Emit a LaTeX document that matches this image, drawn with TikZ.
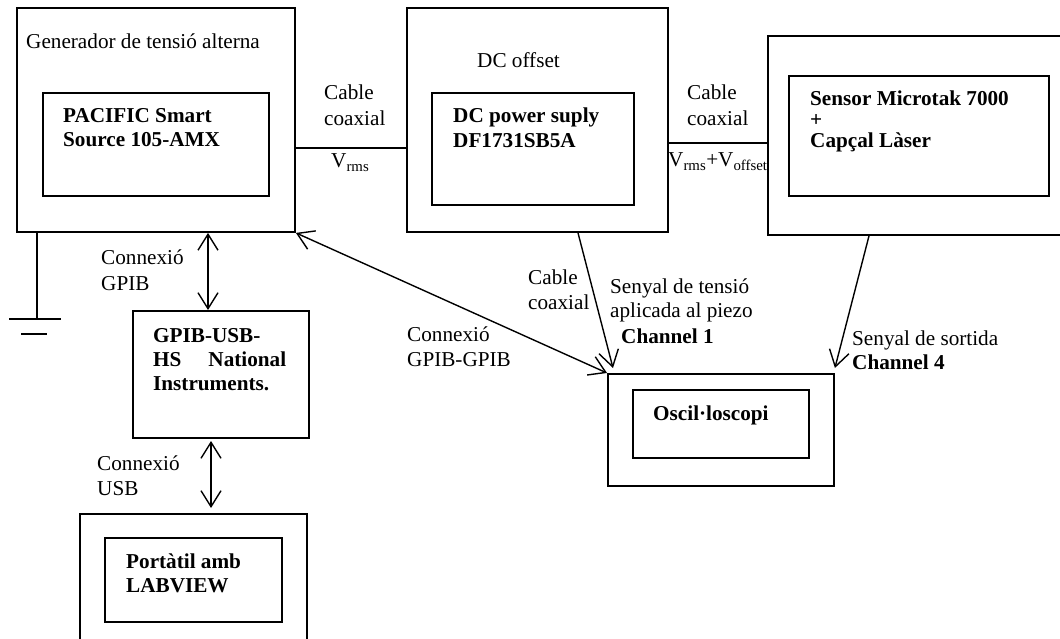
\documentclass[tikz,border=0pt]{standalone}
\usepackage{fontspec}
\setmainfont{Liberation Serif}
\usetikzlibrary{arrows.meta,calc}
\begin{document}
\begin{tikzpicture}[x=1pt,y=-1pt,
  box/.style={draw, line width=1.9pt, inner sep=0pt, anchor=north west},
  conn/.style={line width=1.4pt},
  barb/.tip={Straight Barb[length=16pt,width=20pt,line width=1.4pt]},
  lbl/.style={inner sep=0pt, anchor=base west, font=\fontsize{21.2}{24}\selectfont},
  blbl/.style={lbl, font=\fontsize{21.2}{24}\selectfont\bfseries}]
\useasboundingbox (0,0) rectangle (1060,639);
\clip (0,0) rectangle (1060,639);

% boxes
\node[box, minimum width=278pt, minimum height=224pt] (gen) at (16,7) {};
\node[box, minimum width=226pt, minimum height=103pt] (genin) at (42,92) {};
\node[box, minimum width=261pt, minimum height=224pt] (dc) at (406,7) {};
\node[box, minimum width=202pt, minimum height=112pt] (dcin) at (431,92) {};
\node[box, minimum width=300pt, minimum height=199pt] (sens) at (767,35) {};
\node[box, minimum width=260pt, minimum height=120pt] (sensin) at (788,75) {};
\node[box, minimum width=176pt, minimum height=127pt] (gpib) at (132,310) {};
\node[box, minimum width=227pt, minimum height=140pt] (port) at (79,513) {};
\node[box, minimum width=177pt, minimum height=84pt] (portin) at (104,537) {};
\node[box, minimum width=226pt, minimum height=112pt] (osc) at (607,373) {};
\node[box, minimum width=176pt, minimum height=68pt] (oscin) at (632,389) {};

% texts
\node[lbl] (tgen) at (26,49) {Generador de tensió alterna};
\node[blbl] (tpac1) at (63,123) {PACIFIC Smart};
\node[blbl] (tpac2) at (63,147) {Source 105-AMX};
\node[lbl] (tdcoff) at (477,68) {DC offset};
\node[blbl] (tdc1) at (453,123) {DC power suply};
\node[blbl] (tdc2) at (453,148) {DF1731SB5A};
\node[blbl] (ts1) at (810,106) {Sensor Microtak 7000};
\node[blbl] (ts2) at (810,127) {+};
\node[blbl] (ts3) at (810,148) {Capçal Làser};
\node[lbl] (tc1a) at (324,100) {Cable};
\node[lbl] (tc1b) at (324,126) {coaxial};
\node[lbl] (tv1) at (331,168) {V\textsubscript{rms}};
\node[lbl] (tc2a) at (687,100) {Cable};
\node[lbl] (tc2b) at (687,126) {coaxial};
\node[lbl] (tv2) at (668,167) {V\textsubscript{rms}+V\textsubscript{offset}};
\node[lbl] (tg1) at (101,264) {Connexió};
\node[lbl] (tg2) at (101,290) {GPIB};
\node[blbl] (tu1) at (153,342) {GPIB-USB-};
\node[blbl] (tu2) at (153,366) {\makebox[133pt][s]{HS National}};
\node[blbl] (tu3) at (153,390) {Instruments.};
\node[lbl] (tusb1) at (97,470) {Connexió};
\node[lbl] (tusb2) at (97,495) {USB};
\node[blbl] (tp1) at (126,568) {Portàtil amb};
\node[blbl] (tp2) at (126,592) {LABVIEW};
\node[lbl] (tgg1) at (407,341) {Connexió};
\node[lbl] (tgg2) at (407,366) {GPIB-GPIB};
\node[lbl] (tc3a) at (528,284) {Cable};
\node[lbl] (tc3b) at (528,309) {coaxial};
\node[lbl] (tsen1) at (610,293) {Senyal de tensió};
\node[lbl] (tsen2) at (610,317) {aplicada al piezo};
\node[blbl] (tch1) at (621,343) {Channel 1};
\node[lbl] (tso1) at (852,345) {Senyal de sortida};
\node[blbl] (tch4) at (852,369) {Channel 4};
\node[blbl] (tosc) at (653,420) {Oscil·loscopi};

% connectors
\coordinate (y1) at (0,148);
\coordinate (y2) at (0,143);
\draw[conn] (gen.east |- y1) -- (dc.west |- y1);
\draw[conn] (dc.east |- y2) -- (sens.west |- y2);

\coordinate (xg) at (208,0);
\draw[conn, barb-barb] (gen.south -| xg) -- (gpib.north -| xg);
\coordinate (u1) at (211,441);
\coordinate (u2) at (211,508);
\draw[conn, barb-barb] (u1) -- (u2);

\draw[conn, barb-barb] (gen.south east) -- (osc.north west);
\coordinate (d1) at ($(dc.south west)+(172,0)$);
\coordinate (d2) at ($(osc.north west)+(6,-5)$);
\draw[conn, -barb] (d1) -- (d2);
\coordinate (s1) at ($(sens.south west)+(102,0)$);
\coordinate (s2) at ($(osc.north east)+(0,-5)$);
\draw[conn, -barb] (s1) -- (s2);

% ground
\coordinate (gnd) at (37,319);
\draw[conn] (gen.south -| gnd) -- (gnd);
\draw[conn] ($(gnd)+(-28,0)$) -- ($(gnd)+(24,0)$);
\draw[conn] ($(gnd)+(-16,15)$) -- ($(gnd)+(10,15)$);
\end{tikzpicture}
\end{document}
